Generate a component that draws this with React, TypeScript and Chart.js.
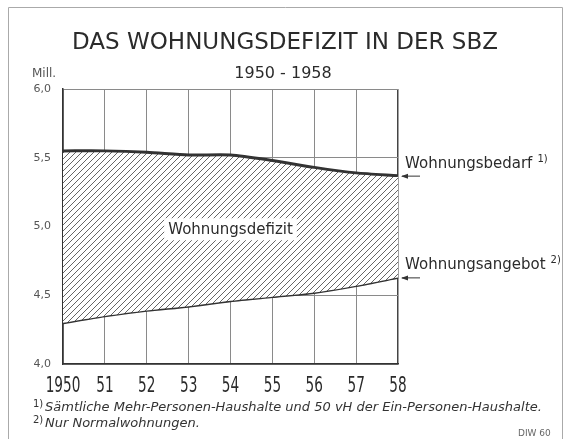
import React, { useEffect, useRef } from 'react';
import { Chart, registerables } from 'chart.js';

Chart.register(...registerables);

const titleText = 'DAS WOHNUNGSDEFIZIT IN DER SBZ';
const subtitleText = '1950 - 1958';
const unitLabel = 'Mill.';
const years = ['1950', '51', '52', '53', '54', '55', '56', '57', '58'];
const bedarf = [5.55, 5.55, 5.54, 5.52, 5.52, 5.48, 5.43, 5.39, 5.37];
const angebot = [4.3, 4.35, 4.39, 4.42, 4.46, 4.49, 4.52, 4.57, 4.63];
const yMin = 4.0;
const yMax = 6.0;
const yStep = 0.5;
const seriesLabels = ['Wohnungsbedarf', 'Wohnungsangebot'];
const seriesNotes = ['1)', '2)'];
const areaLabel = 'Wohnungsdefizit';
const footnoteMarks = ['1)', '2)'];
const footnotes = [
  'Sämtliche Mehr-Personen-Haushalte und 50 vH der Ein-Personen-Haushalte.',
  'Nur Normalwohnungen.',
];
const sourceText = 'DIW 60';

const FONT = '"DejaVu Sans", sans-serif';

function makeHatch(): CanvasPattern | string {
  const c = document.createElement('canvas');
  const s = 6;
  c.width = s;
  c.height = s;
  const g = c.getContext('2d');
  if (!g) return '#ccc';
  g.fillStyle = '#ffffff';
  g.fillRect(0, 0, s, s);
  g.strokeStyle = '#666666';
  g.lineWidth = 1;
  g.beginPath();
  g.moveTo(-1, s + 1);
  g.lineTo(s + 1, -1);
  g.moveTo(-1, 1);
  g.lineTo(1, -1);
  g.moveTo(s - 1, s + 1);
  g.lineTo(s + 1, s - 1);
  g.stroke();
  return g.createPattern(c, 'repeat') || '#ccc';
}

const decorPlugin = {
  id: 'decor',
  afterDatasetsDraw(chart: any) {
    const { ctx, scales } = chart;
    const x = scales.x;
    const y = scales.y;
    ctx.save();
    ctx.font = `15px ${FONT}`;
    const w = ctx.measureText(areaLabel).width;
    const cx = x.getPixelForValue(4);
    const cy = y.getPixelForValue(4.98);
    ctx.fillStyle = '#ffffff';
    ctx.fillRect(cx - w / 2 - 4, cy - 11, w + 8, 22);
    ctx.fillStyle = '#2b2b2b';
    ctx.textAlign = 'center';
    ctx.textBaseline = 'middle';
    ctx.fillText(areaLabel, cx, cy + 1);
    ctx.restore();
  },
  afterDraw(chart: any) {
    const { ctx, scales } = chart;
    const x = scales.x;
    const y = scales.y;
    ctx.save();
    // frame
    ctx.strokeStyle = '#aaaaaa';
    ctx.lineWidth = 1;
    ctx.beginPath();
    ctx.moveTo(8.5, 439);
    ctx.lineTo(8.5, 7.5);
    ctx.lineTo(562.5, 7.5);
    ctx.lineTo(562.5, 439);
    ctx.stroke();

    // titles
    ctx.fillStyle = '#2b2b2b';
    ctx.textBaseline = 'alphabetic';
    ctx.textAlign = 'center';
    ctx.font = `23px ${FONT}`;
    ctx.fillText(titleText, 285, 49);
    ctx.font = `16px ${FONT}`;
    ctx.fillText(subtitleText, 283, 78);

    ctx.textAlign = 'left';
    ctx.fillStyle = '#555555';
    ctx.font = `12px ${FONT}`;
    ctx.fillText(unitLabel, 32, 77);

    // x labels (condensed)
    ctx.fillStyle = '#2b2b2b';
    ctx.font = `22px ${FONT}`;
    years.forEach((yr, i) => {
      const px = x.getPixelForValue(i);
      ctx.save();
      ctx.translate(px, 392);
      ctx.scale(0.62, 1);
      ctx.textAlign = 'center';
      ctx.fillText(yr, 0, 0);
      ctx.restore();
    });

    // series labels with arrows
    const last = years.length - 1;
    const xr = x.getPixelForValue(last);
    [bedarf, angebot].forEach((arr, k) => {
      const py = y.getPixelForValue(arr[last]);
      ctx.strokeStyle = '#333';
      ctx.fillStyle = '#333';
      ctx.lineWidth = 1;
      ctx.beginPath();
      ctx.moveTo(xr + 4, py + 0.5);
      ctx.lineTo(xr + 22, py + 0.5);
      ctx.stroke();
      ctx.beginPath();
      ctx.moveTo(xr + 3, py + 0.5);
      ctx.lineTo(xr + 10, py - 2);
      ctx.lineTo(xr + 10, py + 3);
      ctx.closePath();
      ctx.fill();
      ctx.fillStyle = '#2b2b2b';
      ctx.font = `15px ${FONT}`;
      ctx.textAlign = 'left';
      const lx = xr + 7;
      const ly = py - 8;
      ctx.fillText(seriesLabels[k], lx, ly);
      const lw = ctx.measureText(seriesLabels[k]).width;
      ctx.font = `10px ${FONT}`;
      ctx.fillText(seriesNotes[k], lx + lw + 5, ly - 6);
    });

    // footnotes
    ctx.fillStyle = '#333333';
    footnotes.forEach((t, i) => {
      const base = 411 + i * 16;
      ctx.font = `10px ${FONT}`;
      ctx.fillText(footnoteMarks[i], 33, base - 4);
      ctx.font = `italic 13px ${FONT}`;
      ctx.fillText(t, 45, base);
    });
    ctx.fillStyle = '#666666';
    ctx.font = `9px ${FONT}`;
    ctx.textAlign = 'left';
    ctx.fillText(sourceText, 518, 436);
    ctx.restore();
  },
};

export default function App() {
  const ref = useRef<HTMLCanvasElement | null>(null);
  useEffect(() => {
    if (!ref.current) return;
    const hatch = makeHatch();
    const lastIdx = years.length - 1;
    const chart = new Chart(ref.current, {
      type: 'line',
      data: {
        labels: years,
        datasets: [
          {
            label: seriesLabels[0],
            data: bedarf,
            borderColor: '#333333',
            borderWidth: 3,
            pointRadius: 0,
            tension: 0.25,
            fill: { target: 1 },
            backgroundColor: hatch as any,
          },
          {
            label: seriesLabels[1],
            data: angebot,
            borderColor: '#333333',
            borderWidth: 3,
            pointRadius: 0,
            tension: 0.25,
            fill: false,
          },
        ],
      },
      options: {
        responsive: false,
        animation: false,
        devicePixelRatio: 1,
        layout: { padding: { left: 0, right: 172, top: 89, bottom: 0 } },
        plugins: {
          legend: { display: false },
          tooltip: { enabled: false },
          title: { display: false },
        },
        scales: {
          x: {
            type: 'category',
            offset: false,
            afterFit: (s: any) => {
              s.height = 75;
            },
            ticks: { display: false },
            grid: {
              drawTicks: false,
              color: (c: any) => (c.index === lastIdx ? '#444444' : '#8a8a8a'),
              lineWidth: (c: any) => (c.index === lastIdx ? 1.5 : 1),
            },
            border: { display: true, color: '#333333', width: 1.5 },
          },
          y: {
            min: yMin,
            max: yMax,
            afterFit: (s: any) => {
              s.width = 63;
            },
            ticks: {
              stepSize: yStep,
              padding: 12,
              color: '#555555',
              font: { family: FONT, size: 11 },
              callback: (v: any) => Number(v).toFixed(1).replace('.', ','),
            },
            grid: {
              drawTicks: false,
              color: (c: any) =>
                c.tick && Math.abs(c.tick.value - 5) < 1e-6 ? 'rgba(0,0,0,0)' : '#8a8a8a',
              lineWidth: 1,
            },
            border: { display: true, color: '#333333', width: 1.5 },
          },
        },
      },
      plugins: [decorPlugin],
    });
    return () => chart.destroy();
  }, []);
  return (
    <div style={{ position: 'absolute', left: 0, top: 0, width: 570, height: 439, background: '#fff' }}>
      <canvas ref={ref} width={570} height={439} />
    </div>
  );
}
